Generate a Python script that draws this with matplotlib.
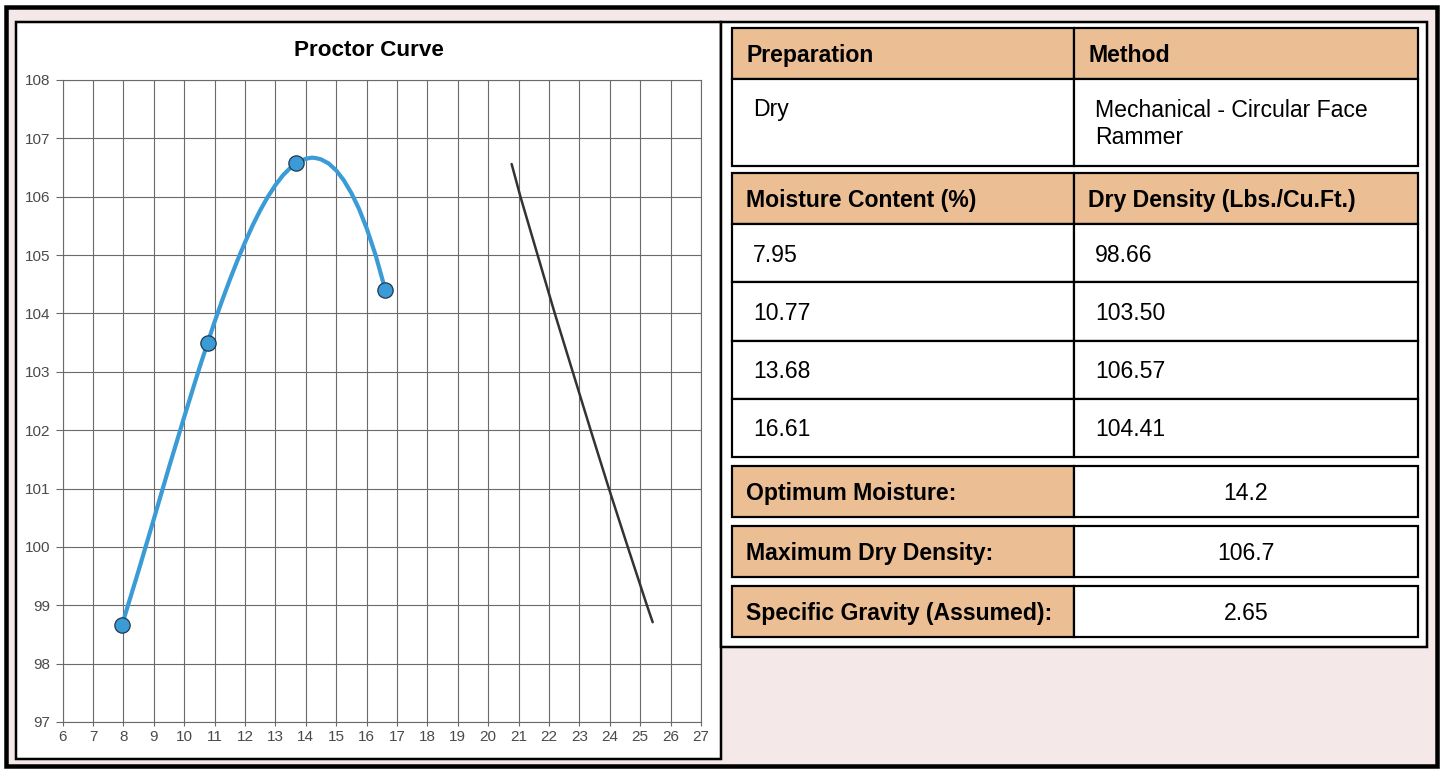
import matplotlib
matplotlib.use("Agg")
import matplotlib.pyplot as plt
from matplotlib.patches import Rectangle

plt.rcParams['font.family'] = ['Liberation Sans', 'DejaVu Sans']

# measured points
moisture = [7.95, 10.77, 13.68, 16.61]
density = [98.66, 103.50, 106.57, 104.41]

# fitted proctor curve
curve_x = [7.95, 8.5, 9.0, 9.5, 10.0, 10.5, 10.77, 11.0, 11.25, 11.5, 11.75, 12.0, 12.25, 12.5, 12.75,
           13.0, 13.25, 13.5, 13.68, 13.85, 14.0, 14.2, 14.35, 14.5, 14.75, 15.0, 15.25, 15.5,
           15.75, 16.0, 16.3, 16.61]
curve_y = [98.66, 99.6, 100.48, 101.37, 102.23, 103.07, 103.5, 103.86, 104.23, 104.58, 104.91, 105.22,
           105.51, 105.77, 106.0, 106.2, 106.37, 106.5, 106.57, 106.62, 106.65, 106.67, 106.66, 106.64,
           106.57, 106.45, 106.28, 106.06, 105.79, 105.46, 104.99, 104.41]

# zero air voids line (Gs 2.65)
zav_x = [20.77, 21.06, 22.19, 23.37, 23.97, 24.59, 25.22, 25.41]
zav_y = [106.56, 106.0, 104.0, 102.0, 101.0, 100.0, 99.0, 98.71]

x_ticks = list(range(6, 28))
y_ticks = list(range(97, 109))

prep_header = ["Preparation", "Method"]
prep_row = ["Dry", "Mechanical - Circular Face\nRammer"]
point_header = ["Moisture Content (%)", "Dry Density (Lbs./Cu.Ft.)"]
summary_labels = ["Optimum Moisture:", "Maximum Dry Density:", "Specific Gravity (Assumed):"]
summary_values = ["14.2", "106.7", "2.65"]

ORANGE = '#ECBE94'
PINK = '#F4E8E8'
W, H = 1440, 769
PX = 0.72  # points per pixel at dpi 100

fig = plt.figure(figsize=(W / 100, H / 100), dpi=100, facecolor='white')

# overlay in pixel coordinates for frames and tables
ov = fig.add_axes([0, 0, 1, 1])
ov.set_xlim(0, W)
ov.set_ylim(H, 0)
ov.axis('off')
ov.set_zorder(0)

ov.add_patch(Rectangle((6, 7), 1431, 759, facecolor=PINK, edgecolor='black', lw=4.5 * PX))
ov.add_patch(Rectangle((16, 22), 705, 737, facecolor='white', edgecolor='black', lw=2.5 * PX))
ov.add_patch(Rectangle((721, 22), 706, 625, facecolor='white', edgecolor='black', lw=2.5 * PX))

ov.text(369, 56, "Proctor Curve", fontsize=16.2, fontweight='bold', ha='center', va='baseline')

x0, xm, x1 = 732, 1074, 1418
fs = 16.6
lw_cell = 2.2 * PX


def cell(x, y, w, h, color):
    ov.add_patch(Rectangle((x, y), w, h, facecolor=color, edgecolor='black', lw=lw_cell))


# table 1: preparation / method
cell(x0, 28, xm - x0, 51, ORANGE)
cell(xm, 28, x1 - xm, 51, ORANGE)
ov.text(x0 + 14, 62, prep_header[0], fontsize=fs, fontweight='bold', va='baseline')
ov.text(xm + 14, 62, prep_header[1], fontsize=fs, fontweight='bold', va='baseline')
cell(x0, 79, xm - x0, 87, 'white')
cell(xm, 79, x1 - xm, 87, 'white')
ov.text(x0 + 21, 116, prep_row[0], fontsize=fs, va='baseline')
for i, line in enumerate(prep_row[1].split("\n")):
    ov.text(xm + 21, 117 + 27 * i, line, fontsize=fs, va='baseline')

# table 2: points
cell(x0, 173, xm - x0, 51, ORANGE)
cell(xm, 173, x1 - xm, 51, ORANGE)
ov.text(x0 + 14, 207, point_header[0], fontsize=fs, fontweight='bold', va='baseline')
ov.text(xm + 14, 207, point_header[1], fontsize=fs, fontweight='bold', va='baseline')
row_tops = [224, 282, 341, 399, 457]
for i, (m, d) in enumerate(zip(moisture, density)):
    top, bot = row_tops[i], row_tops[i + 1]
    cell(x0, top, xm - x0, bot - top, 'white')
    cell(xm, top, x1 - xm, bot - top, 'white')
    base = (top + bot) / 2 + 8.5
    ov.text(x0 + 21, base, f"{m:.2f}", fontsize=fs, va='baseline')
    ov.text(xm + 21, base, f"{d:.2f}", fontsize=fs, va='baseline')

# table 3: summary
sum_tops = [466, 526, 586]
for top, lab, val in zip(sum_tops, summary_labels, summary_values):
    cell(x0, top, xm - x0, 51, ORANGE)
    cell(xm, top, x1 - xm, 51, 'white')
    ov.text(x0 + 14, top + 34, lab, fontsize=fs, fontweight='bold', va='baseline')
    ov.text((xm + x1) / 2, top + 34, val, fontsize=fs, ha='center', va='baseline')

# chart
ax = fig.add_axes([62.7 / W, 1 - 722 / H, (701 - 62.7) / W, (722 - 80) / H])
ax.set_zorder(1)
ax.set_facecolor('none')
ax.set_xlim(6, 27)
ax.set_ylim(97, 108)
ax.set_xticks(x_ticks)
ax.set_yticks(y_ticks)
grid_c = '#6a6a6a'
ax.grid(True, color=grid_c, lw=0.8)
for s in ax.spines.values():
    s.set_color(grid_c)
    s.set_linewidth(0.8)
ax.tick_params(axis='y', length=5, width=0.8, color=grid_c, labelcolor='#4a4a4a', labelsize=11, pad=4)
ax.tick_params(axis='x', length=3, width=0.8, color=grid_c, labelcolor='#4a4a4a', labelsize=11, pad=2.5)

ax.plot(zav_x, zav_y, color='#333333', lw=1.8, solid_capstyle='round', zorder=3)
ax.plot(curve_x, curve_y, color='#3B9BD6', lw=3.0, solid_capstyle='round', solid_joinstyle='round', zorder=4)
ax.plot(moisture, density, 'o', ms=11, color='#3B9BD6', mec='#1d3a4f', mew=0.9, zorder=5)

fig.savefig("out.png", dpi=100, facecolor='white')
